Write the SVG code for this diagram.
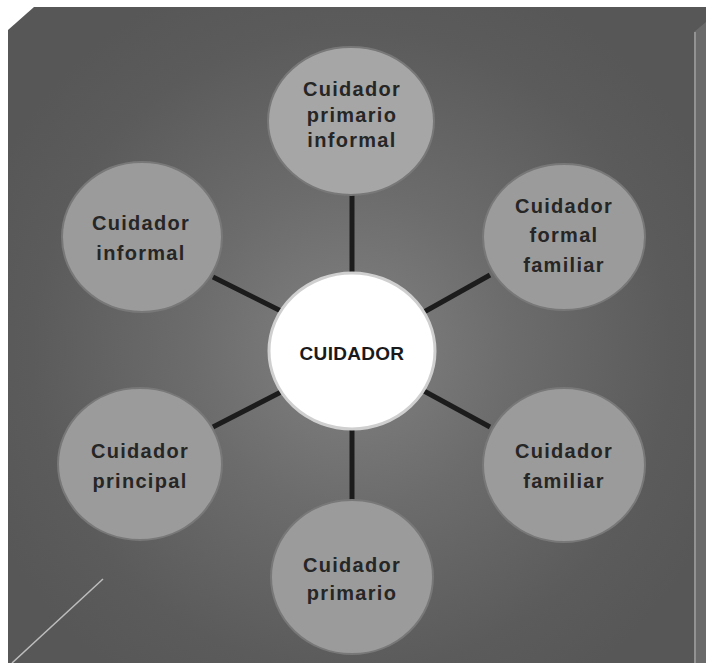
<svg xmlns="http://www.w3.org/2000/svg" width="706" height="663" viewBox="0 0 706 663">
<defs>
<radialGradient id="bg" cx="352" cy="350" r="400" gradientUnits="userSpaceOnUse">
<stop offset="0" stop-color="#828282"/>
<stop offset="0.4" stop-color="#6c6c6c"/>
<stop offset="0.8" stop-color="#5b5b5b"/>
<stop offset="1" stop-color="#575757"/>
</radialGradient>
<style>
.node{fill:#9b9b9b;stroke:#787878;stroke-width:2}
.top{fill:#a6a6a6}
.center{fill:#ffffff;stroke:#cfcfcf;stroke-width:3}
.lbl{font-family:"Liberation Sans",Arial,sans-serif;font-weight:bold;font-size:20px;letter-spacing:1.3px;fill:#262626;text-anchor:middle}
.clbl{font-family:"Liberation Sans",Arial,sans-serif;font-weight:bold;font-size:19px;letter-spacing:0.3px;fill:#1a1a1a;text-anchor:middle}
.conn line{stroke:#1c1c1c;stroke-width:5;stroke-linecap:butt}
</style>
</defs>
<rect width="706" height="663" fill="#ffffff"/>
<polygon points="8,30 34,7 706,7 706,663 8,663" fill="url(#bg)"/>
<polygon points="694,32 706,22 706,663 694,663" fill="#6a6a6a"/>
<line x1="695" y1="32" x2="695" y2="663" stroke="#a0a0a0" stroke-width="1.5"/>
<line x1="12" y1="663" x2="103" y2="579" stroke="#bdbdbd" stroke-width="1.5"/>
<g id="connectors" class="conn">
<line x1="352" y1="195" x2="352" y2="274"/>
<line x1="352" y1="428" x2="352" y2="502"/>
<line x1="213" y1="277" x2="281" y2="311"/>
<line x1="490" y1="275" x2="424" y2="312"/>
<line x1="281" y1="392" x2="213" y2="427"/>
<line x1="424" y1="391" x2="490" y2="427"/>
</g>
<g id="node-top">
<ellipse class="node top" cx="351" cy="121" rx="83" ry="74"/>
<text class="lbl" x="352" y="96">Cuidador</text>
<text class="lbl" x="352" y="122">primario</text>
<text class="lbl" x="352" y="147">informal</text>
</g>
<g id="node-informal">
<ellipse class="node" cx="142" cy="237" rx="80" ry="75"/>
<text class="lbl" x="141" y="230">Cuidador</text>
<text class="lbl" x="141" y="260">informal</text>
</g>
<g id="node-formal-familiar">
<ellipse class="node" cx="564" cy="237" rx="81" ry="73"/>
<text class="lbl" x="564" y="213">Cuidador</text>
<text class="lbl" x="564" y="242">formal</text>
<text class="lbl" x="564" y="272">familiar</text>
</g>
<g id="node-principal">
<ellipse class="node" cx="140" cy="464" rx="82" ry="76"/>
<text class="lbl" x="140" y="458">Cuidador</text>
<text class="lbl" x="140" y="488">principal</text>
</g>
<g id="node-familiar">
<ellipse class="node" cx="564" cy="465" rx="81" ry="77"/>
<text class="lbl" x="564" y="458">Cuidador</text>
<text class="lbl" x="564" y="488">familiar</text>
</g>
<g id="node-primario">
<ellipse class="node" cx="352" cy="577" rx="81" ry="77"/>
<text class="lbl" x="352" y="572">Cuidador</text>
<text class="lbl" x="352" y="600">primario</text>
</g>
<g id="node-center">
<ellipse class="center" cx="352" cy="351" rx="83" ry="78"/>
<text class="clbl" x="352" y="360">CUIDADOR</text>
</g>
</svg>
